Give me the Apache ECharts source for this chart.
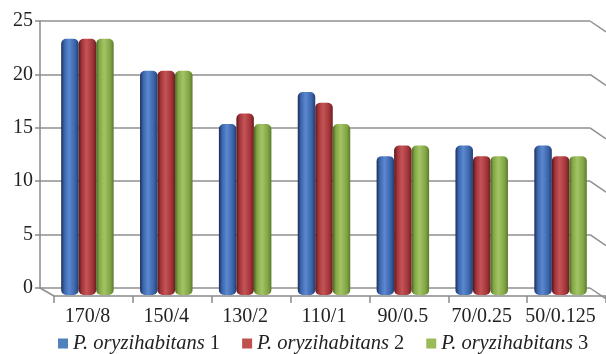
<!DOCTYPE html>
<html>
<head>
<meta charset="utf-8">
<script src="https://cdn.jsdelivr.net/npm/echarts@6/dist/echarts.min.js"></script>
<style>html,body{margin:0;padding:0;background:#fff;}#c{width:606px;height:354px;}</style>
</head>
<body>
<div id="c"></div>
<script>
const categories = ['170/8', '150/4', '130/2', '110/1', '90/0.5', '70/0.25', '50/0.125'];
const seriesNames = ['P. oryzihabitans 1', 'P. oryzihabitans 2', 'P. oryzihabitans 3'];
const series1 = [24, 21, 16, 19, 13, 14, 14];
const series2 = [24, 21, 17, 18, 14, 13, 13];
const series3 = [24, 21, 16, 16, 14, 13, 13];
const yTicks = [0, 5, 10, 15, 20, 25];

const FONT = "'Liberation Serif', 'Times New Roman', serif";
const palettes = [
  ['#1b2c58', '#3b66ad', '#5b88cf', '#3a64a8', '#223d74'],
  ['#551618', '#a3353a', '#c45456', '#a23438', '#6a1f22'],
  ['#4a6424', '#84a745', '#a3c465', '#82a544', '#5b7a2e']
];
function grad(p) {
  return new echarts.graphic.LinearGradient(0, 0, 1, 0, [
    {offset: 0, color: p[0]}, {offset: 0.18, color: p[1]},
    {offset: 0.45, color: p[2]}, {offset: 0.8, color: p[3]},
    {offset: 1, color: p[4]}
  ]);
}
const legendColors = ['#4f81bd', '#c0504d', '#9bbb59'];
const allData = [series1, series2, series3];

const chart = echarts.init(document.getElementById('c'), null, {renderer: 'canvas'});
const option = {
  animation: false,
  textStyle: {fontFamily: FONT},
  grid: [
    {left: 40, right: 16, top: 21, bottom: 66},
    {left: 48, right: 6, top: 28, bottom: 59},
    {left: 54, right: 0, top: 28, bottom: 58}
  ],
  xAxis: [
    {gridIndex: 0, type: 'value', min: 0, max: 1, show: false},
    {gridIndex: 1, type: 'category', data: categories,
      axisLine: {show: false}, axisTick: {show: false},
      axisLabel: {fontFamily: FONT, fontSize: 20, color: '#222', margin: 12, interval: 0}},
    {gridIndex: 2, type: 'category', data: categories,
      axisLine: {show: true, lineStyle: {color: '#8a8a8a', width: 1.5}},
      axisTick: {show: true, length: 7, lineStyle: {color: '#8a8a8a', width: 1.5}},
      axisLabel: {show: false}}
  ],
  yAxis: [
    {gridIndex: 0, type: 'value', min: 0, max: 25, interval: 5,
      axisLine: {show: true, lineStyle: {color: '#8a8a8a', width: 1.5}},
      axisTick: {show: true, length: 5, lineStyle: {color: '#8a8a8a', width: 1.5}},
      splitLine: {show: true, lineStyle: {color: '#8f8f8f', width: 1.5}},
      axisLabel: {fontFamily: FONT, fontSize: 20, color: '#222', margin: 7}},
    {gridIndex: 1, type: 'value', min: 0, max: 25, show: false, splitLine: {show: false}},
    {gridIndex: 2, type: 'value', min: 0, max: 25, show: false, splitLine: {show: false}}
  ],
  legend: {
    left: 58, top: 333, padding: 0, itemWidth: 10, itemHeight: 10, itemGap: 22,
    icon: 'rect',
    data: seriesNames.map((n, i) => ({name: n, itemStyle: {color: legendColors[i]}})),
    formatter: function (name) {
      const idx = name.lastIndexOf(' ');
      return '{i|' + name.slice(0, idx) + '} {n|' + name.slice(idx + 1) + '}';
    },
    textStyle: {
      fontFamily: FONT, fontSize: 20.5, color: '#222',
      rich: {
        i: {fontFamily: FONT, fontSize: 20.5, fontStyle: 'italic', color: '#222'},
        n: {fontFamily: FONT, fontSize: 20.5, color: '#222'}
      }
    }
  },
  series: [
    {
      type: 'custom', xAxisIndex: 0, yAxisIndex: 0, silent: true,
      data: yTicks,
      renderItem: function (params, api) {
        const v = api.value(0);
        const r = api.coord([1, v]);
        const children = [{
          type: 'line',
          shape: {x1: r[0], y1: r[1], x2: r[0] + 16, y2: r[1] + 11},
          style: {stroke: '#8f8f8f', lineWidth: 1.5}
        }];
        if (v === 0) {
          const l = api.coord([0, 0]);
          children.push({
            type: 'line',
            shape: {x1: l[0], y1: l[1], x2: l[0] + 14, y2: l[1] + 8},
            style: {stroke: '#8f8f8f', lineWidth: 1.5}
          });
        }
        return {type: 'group', children: children};
      },
      encode: {y: 0}
    }
  ].concat(allData.map((d, i) => ({
    name: seriesNames[i],
    type: 'bar', xAxisIndex: 1, yAxisIndex: 1,
    data: d,
    barWidth: 17.5, barGap: '0%',
    itemStyle: {color: grad(palettes[i]), borderRadius: [5, 5, 5, 5]}
  })))
};
chart.setOption(option);
</script>
</body>
</html>
